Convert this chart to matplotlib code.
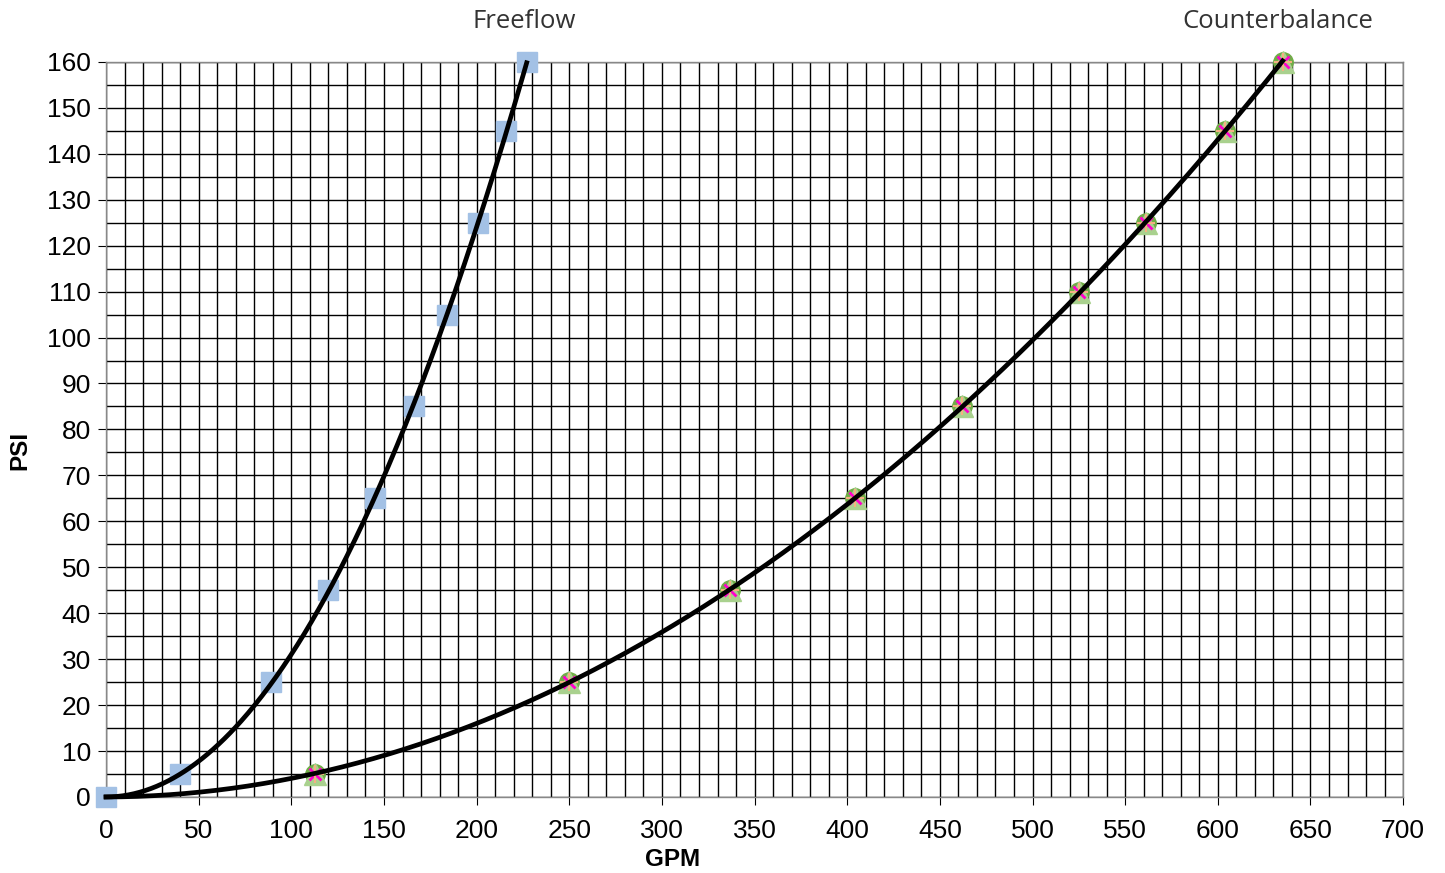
import numpy as np
import matplotlib
matplotlib.use("Agg")
import matplotlib.pyplot as plt
from matplotlib.ticker import MultipleLocator

# Data
freeflow_gpm = [0, 40, 89, 120, 145, 166, 184, 201, 216, 227]
freeflow_psi = [0, 5, 25, 45, 65, 85, 105, 125, 145, 160]
counter_gpm = [113, 250, 337, 404, 462, 525, 561, 604, 635]
counter_psi = [5, 25, 45, 65, 85, 110, 125, 145, 160]
x_ticks = list(range(0, 701, 50))
y_ticks = list(range(0, 161, 10))


def fit_through_origin(x, y):
    x = np.asarray(x, float)
    y = np.asarray(y, float)
    A = np.column_stack([x ** 2, x])
    coef, *_ = np.linalg.lstsq(A, y, rcond=None)
    return coef


fig = plt.figure(figsize=(14.45, 8.73), dpi=100)
ax = fig.add_axes([0.0734, 0.0871, 0.8976, 0.842])

ax.set_xlim(0, 700)
ax.set_ylim(0, 160)
ax.set_xticks(x_ticks)
ax.set_yticks(y_ticks)
ax.xaxis.set_minor_locator(MultipleLocator(10))
ax.yaxis.set_minor_locator(MultipleLocator(5))
ax.grid(which="both", color="black", linewidth=1.0)
ax.set_axisbelow(True)
for s in ax.spines.values():
    s.set_color("#888888")
    s.set_linewidth(1.0)
ax.tick_params(which="major", length=6, color="black", labelsize=19)
ax.tick_params(axis="x", which="major", pad=10)
ax.tick_params(axis="y", which="major", pad=5)
ax.tick_params(which="minor", length=0)
for lab in ax.get_xticklabels() + ax.get_yticklabels():
    lab.set_fontfamily("Liberation Sans")

# markers
ax.plot(freeflow_gpm, freeflow_psi, linestyle="none", marker="s",
        markersize=15, color="#A3C1E5", zorder=3, clip_on=False)
ax.plot(counter_gpm, counter_psi, linestyle="none", marker="o",
        markersize=14, color="#70AD47", zorder=3, clip_on=False)
ax.plot(counter_gpm, counter_psi, linestyle="none", marker="^",
        markersize=16, color="#A9D18E", zorder=3, clip_on=False)
ax.plot(counter_gpm, counter_psi, linestyle="none", marker="x",
        markersize=9, markeredgewidth=2, color="#FF00CC", zorder=3, clip_on=False)
ax.plot(counter_gpm, counter_psi, linestyle="none", marker="+",
        markersize=13, markeredgewidth=1.5, color="#F4B183", zorder=3, clip_on=False)

# trendlines
a, b = fit_through_origin(freeflow_gpm, freeflow_psi)
xf = np.linspace(0, max(freeflow_gpm), 300)
ax.plot(xf, a * xf ** 2 + b * xf, color="black", linewidth=3.4, zorder=4, clip_on=False)
a2, b2 = fit_through_origin(counter_gpm, counter_psi)
xc = np.linspace(0, max(counter_gpm), 300)
ax.plot(xc, a2 * xc ** 2 + b2 * xc, color="black", linewidth=3.4, zorder=4, clip_on=False)

fig.text(673 / 1445, 1 - 860 / 873, "GPM", ha="center", va="center",
         fontsize=17.5, fontweight="bold", family="Liberation Sans")
fig.text(20 / 1445, 1 - 450 / 873, "PSI", ha="center", va="center", rotation=90,
         fontsize=17.5, fontweight="bold", family="Liberation Sans")

fig.text(524 / 1445, 1 - 22 / 873, "Freeflow", ha="center", va="center",
         fontsize=18.5, color="#333333", family="Open Sans")
fig.text(1278 / 1445, 1 - 22 / 873, "Counterbalance", ha="center", va="center",
         fontsize=18.5, color="#333333", family="Open Sans")

fig.savefig("out.png", dpi=100)
